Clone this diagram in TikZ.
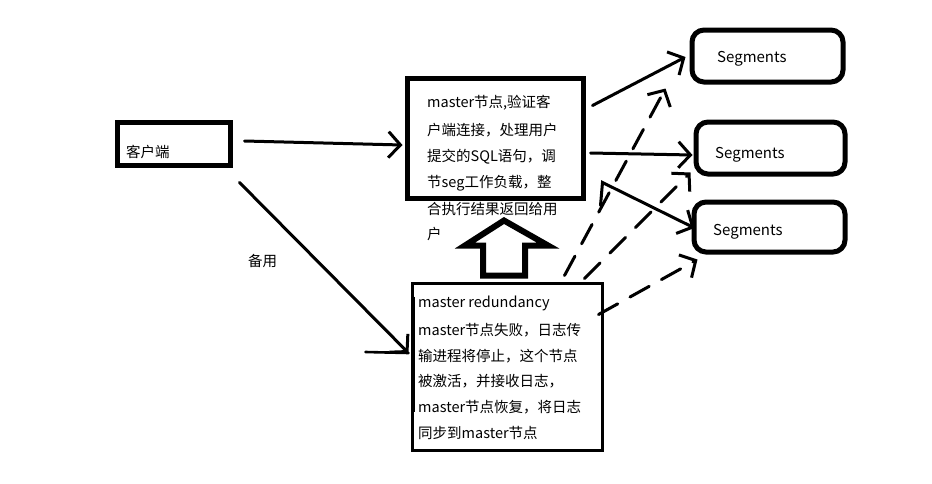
\documentclass[tikz,border=0pt]{standalone}
\usepackage{fontspec}
\setmainfont{Noto Sans CJK SC}
\usetikzlibrary{arrows.meta,calc}
\tikzset{
  box/.style={draw=black, rectangle, inner sep=0pt},
  segbox/.style={box, line width=5pt, rounded corners=12pt},
  txt/.style={anchor=west, inner sep=0pt, font=\fontsize{14.5}{17}\selectfont},
  segtxt/.style={anchor=west, inner sep=0pt, font=\fontsize{15}{18}\selectfont},
  arr/.style={line width=3pt, line cap=round, -{Straight Barb[length=12pt,width=26pt,line width=3pt]}},
  darr/.style={arr, dash pattern=on 22pt off 14pt},
  stroke/.style={line width=2.6pt, line cap=round},
  bigarrow/.style={line width=6pt, line join=miter}
}
\begin{document}
\begin{tikzpicture}[x=1pt,y=-1pt]
\useasboundingbox[fill=white] (0,0) rectangle (932,483);

% boxes
\node[box, line width=5pt, minimum width=113pt, minimum height=43pt] (client) at (173.5,143.5) {};
\node[box, line width=5pt, minimum width=176pt, minimum height=120pt] (master) at (495,138) {};
\node[box, line width=3pt, minimum width=190pt, minimum height=167pt] (red) at (507,366.5) {};
\node[segbox, minimum width=151pt, minimum height=52pt] (seg1) at (767.5,56) {};
\node[segbox, minimum width=149pt, minimum height=52pt] (seg2) at (770.5,148) {};
\node[segbox, minimum width=151pt, minimum height=50pt] (seg3) at (769.5,227) {};

% texts
\node[txt] (ct) at (126,152) {客户端};
\node[txt] (by) at (248,261) {备用};

\node[txt] (m1) at (427,103) {master节点,验证客};
\node[txt] (m2) at (427,130) {户端连接，处理用户};
\node[txt] (m3) at (427,157) {提交的SQL语句，调};
\node[txt] (m4) at (427,183) {节seg工作负载，整};
\node[txt] (m5) at (427,209) {合执行结果返回给用};
\node[txt] (m6) at (427,234) {户};

\node[txt] (r1) at (418,303) {master redundancy};
\node[txt] (r2) at (418,330) {master节点失败，日志传};
\node[txt] (r3) at (418,356) {输进程将停止，这个节点};
\node[txt] (r4) at (418,381) {被激活，并接收日志，};
\node[txt] (r5) at (418,407) {master节点恢复，将日志};
\node[txt] (r6) at (418,433) {同步到master节点};

\node[segtxt] (s1t) at (717,59) {Segments};
\node[segtxt] (s2t) at (715,155) {Segments};
\node[segtxt] (s3t) at (713,232) {Segments};

% inner stroke of redundancy box
\draw[line width=1.6pt] ($(red.north west)+(4,15)$) -- ($(red.north west)+(4,130)$);

% client connectors
\draw[arr] ($(client.east)+(12,-2.5)$) -- ($(master.west)+(-2,7)$);
\draw[arr] ($(client.south east)+(7,15)$) -- ($(red.west)+(-2,-13.5)$);
\draw[stroke] ($(red.west)+(-45,-14.5)$) -- ($(red.west)+(-2,-13.5)$);

% master to segments
\draw[arr] ($(master.north east)+(7,30)$) -- ($(seg1.west)+(-4,1)$);
\draw[arr] ($(master.east)+(5,15)$) -- ($(seg2.west)+(-1,7)$);
\draw[arr] ($(master.south east)+(15,5)$) -- ($(master.south east)+(17,-18)$) -- ($(seg3.west)+(3,1)$);

% big hollow arrow redundancy -> master
\draw[bigarrow] ($(red.north)+(-24,-6)$) -- ++(0,-30) -- ++(-18,0) -- ++(39,-25) -- ++(44,25) -- ++(-23,0) -- ++(0,30) -- cycle;

% dashed connectors redundancy -> segments
\draw[darr] ($(red.north east)+(-39,-6)$) -- ($(seg1.south west)+(-24,4)$);
\draw[darr] ($(red.north east)+(-19,-3)$) -- ($(seg2.south west)+(-3,-4)$);
\draw[darr] ($(red.north east)+(-5,33)$) -- ($(seg3.south west)+(6,5)$);
\end{tikzpicture}
\end{document}
